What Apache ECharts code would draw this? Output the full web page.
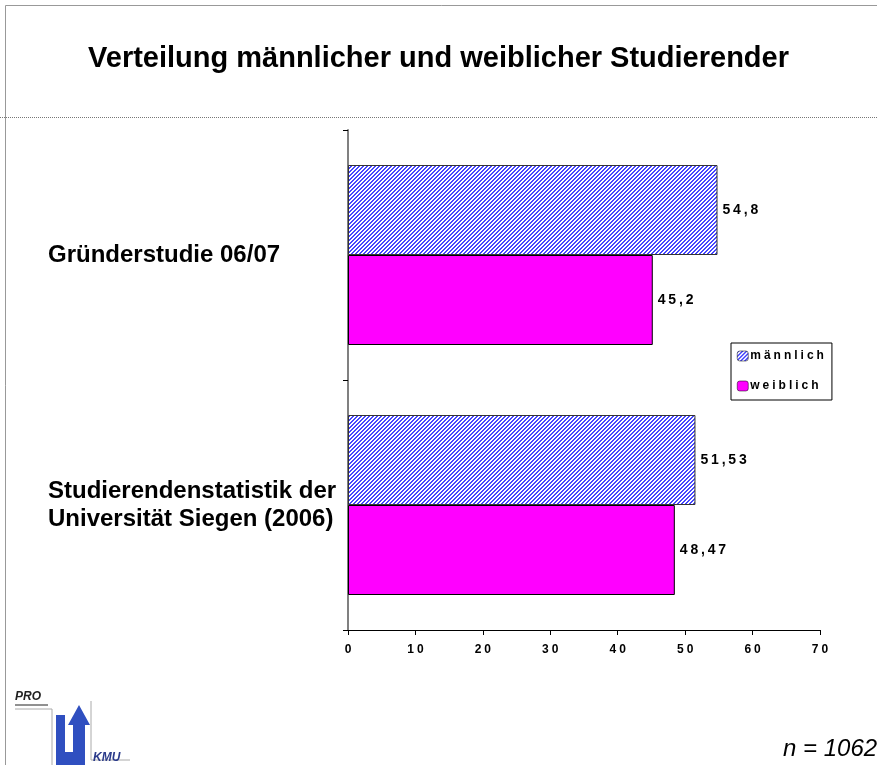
<!DOCTYPE html>
<html>
<head>
<meta charset="utf-8">
<script src="https://cdn.jsdelivr.net/npm/echarts@6/dist/echarts.min.js"></script>
<style>
  html, body { margin: 0; padding: 0; background: #fff; }
  #chart { width: 877px; height: 765px; }
</style>
</head>
<body>
<div id="chart"></div>
<script>
// data
const categories = ['Gründerstudie 06/07', 'Studierendenstatistik der\nUniversität Siegen (2006)']
const maennlich = [54.8, 51.53]
const weiblich = [45.2, 48.47]
const seriesNames = ['männlich', 'weiblich']
const xTicks = [0, 10, 20, 30, 40, 50, 60, 70]

// spaced out text like the original
const spaced = (s, gap) => String(s).split('').join(gap || '\u2005')
const fmtNum = (v) => spaced(String(v).replace('.', ','), '\u2009')

// hatch pattern for männlich
const makeHatch = () => {
  const c = document.createElement('canvas')
  c.width = 4
  c.height = 4
  const ctx = c.getContext('2d')
  ctx.fillStyle = '#ffffff'
  ctx.fillRect(0, 0, 4, 4)
  ctx.fillStyle = '#4646ff'
  for (let x = 0; x < 4; x++) {
    for (let y = 0; y < 4; y++) {
      if ((x + y) % 4 < 2) ctx.fillRect(x, y, 1, 1)
    }
  }
  return c
}
const hatch = { image: makeHatch(), repeat: 'repeat' }

const myChart = echarts.init(document.getElementById('chart'))
const labelStyle = {
  show: true,
  position: 'right',
  distance: 5,
  fontFamily: 'Liberation Sans, Arial',
  fontWeight: 'bold',
  fontSize: 14,
  color: '#000',
  formatter: (p) => fmtNum(p.value)
}

const options = {
  animation: false,
  backgroundColor: '#fff',
  title: {
    text: 'Verteilung männlicher und weiblicher Studierender',
    left: 'center',
    top: 39,
    textStyle: {
      fontFamily: 'Liberation Sans, Arial',
      fontWeight: 'bold',
      fontSize: 29,
      color: '#000'
    }
  },
  legend: {
    orient: 'vertical',
    left: 731,
    top: 343,
    width: 102,
    padding: [7, 8, 8, 6],
    itemGap: 18,
    itemWidth: 11,
    itemHeight: 10,
    borderColor: '#000',
    borderWidth: 1,
    borderRadius: 0,
    data: [
      { name: seriesNames[0], itemStyle: { color: hatch, borderColor: '#000', borderWidth: 0.5 } },
      { name: seriesNames[1], itemStyle: { color: '#ff00ff', borderColor: '#000', borderWidth: 0.5 } }
    ],
    formatter: (n) => spaced(n),
    textStyle: {
      fontFamily: 'Liberation Sans, Arial',
      fontWeight: 'bold',
      fontSize: 12,
      color: '#000',
      padding: [0, 0, 0, -3]
    }
  },
  grid: {
    left: 348,
    right: 57,
    top: 130,
    bottom: 135,
    containLabel: false,
    outerBoundsMode: 'none'
  },
  xAxis: {
    type: 'value',
    min: 0,
    max: 70,
    interval: 10,
    splitLine: { show: false },
    axisLine: { show: true, lineStyle: { color: '#000', width: 1 } },
    axisTick: { show: true, length: 5, lineStyle: { color: '#000' } },
    axisLabel: {
      margin: 14,
      fontFamily: 'Liberation Sans, Arial',
      fontWeight: 'bold',
      fontSize: 12,
      color: '#000',
      formatter: (v) => xTicks.includes(v) ? spaced(v) : ''
    }
  },
  yAxis: {
    type: 'category',
    inverse: true,
    data: categories,
    axisLine: { show: true, lineStyle: { color: '#808080', width: 2 } },
    axisTick: { show: true, length: 5, lineStyle: { color: '#000' } },
    axisLabel: {
      margin: 300,
      align: 'left',
      fontFamily: 'Liberation Sans, Arial',
      fontWeight: 'bold',
      fontSize: 24,
      lineHeight: 28,
      color: '#000'
    }
  },
  series: [
    {
      name: seriesNames[0],
      type: 'bar',
      data: maennlich,
      barCategoryGap: '28%',
      barGap: '0%',
      itemStyle: { color: hatch, borderColor: '#333', borderWidth: 1 },
      label: labelStyle
    },
    {
      name: seriesNames[1],
      type: 'bar',
      data: weiblich,
      barCategoryGap: '28%',
      barGap: '0%',
      itemStyle: { color: '#ff00ff', borderColor: '#000', borderWidth: 1 },
      label: labelStyle
    }
  ],
  graphic: [
    // frame
    { type: 'line', silent: true, shape: { x1: 5.5, y1: 5.5, x2: 877, y2: 5.5 }, style: { stroke: '#999', lineWidth: 1 } },
    { type: 'line', silent: true, shape: { x1: 5.5, y1: 5.5, x2: 5.5, y2: 765 }, style: { stroke: '#999', lineWidth: 1 } },
    // dotted separator
    { type: 'line', silent: true, shape: { x1: 0, y1: 117.5, x2: 877, y2: 117.5 }, style: { stroke: '#777', lineWidth: 1, lineDash: [1, 1] } },
    // n
    {
      type: 'text', left: 783, top: 737,
      style: { text: 'n = 1062', font: 'italic 24px "Liberation Sans", Arial', fill: '#000' }
    },
    // logo
    {
      type: 'text', left: 15, top: 691,
      style: { text: 'PRO', font: 'italic bold 12px "Liberation Sans", Arial', fill: '#222' }
    },
    { type: 'line', silent: true, shape: { x1: 15, y1: 705, x2: 48, y2: 705 }, style: { stroke: '#222', lineWidth: 1 } },
    { type: 'polyline', silent: true, shape: { points: [[15, 709], [52, 709], [52, 765]] }, style: { stroke: '#aaa', lineWidth: 1, fill: null } },
    {
      type: 'polygon', silent: true,
      shape: { points: [[56, 715], [65, 715], [65, 752], [73, 752], [73, 725], [68, 725], [79, 705], [90, 725], [85, 725], [85, 765], [56, 765]] },
      style: { fill: '#2f4fc0' }
    },
    { type: 'polyline', silent: true, shape: { points: [[91, 701], [91, 760], [130, 760]] }, style: { stroke: '#aaa', lineWidth: 1, fill: null } },
    {
      type: 'text', left: 93, top: 752,
      style: { text: 'KMU', font: 'italic bold 12px "Liberation Sans", Arial', fill: '#2a3a8a' }
    }
  ]
}
myChart.setOption(options)
</script>
</body>
</html>
